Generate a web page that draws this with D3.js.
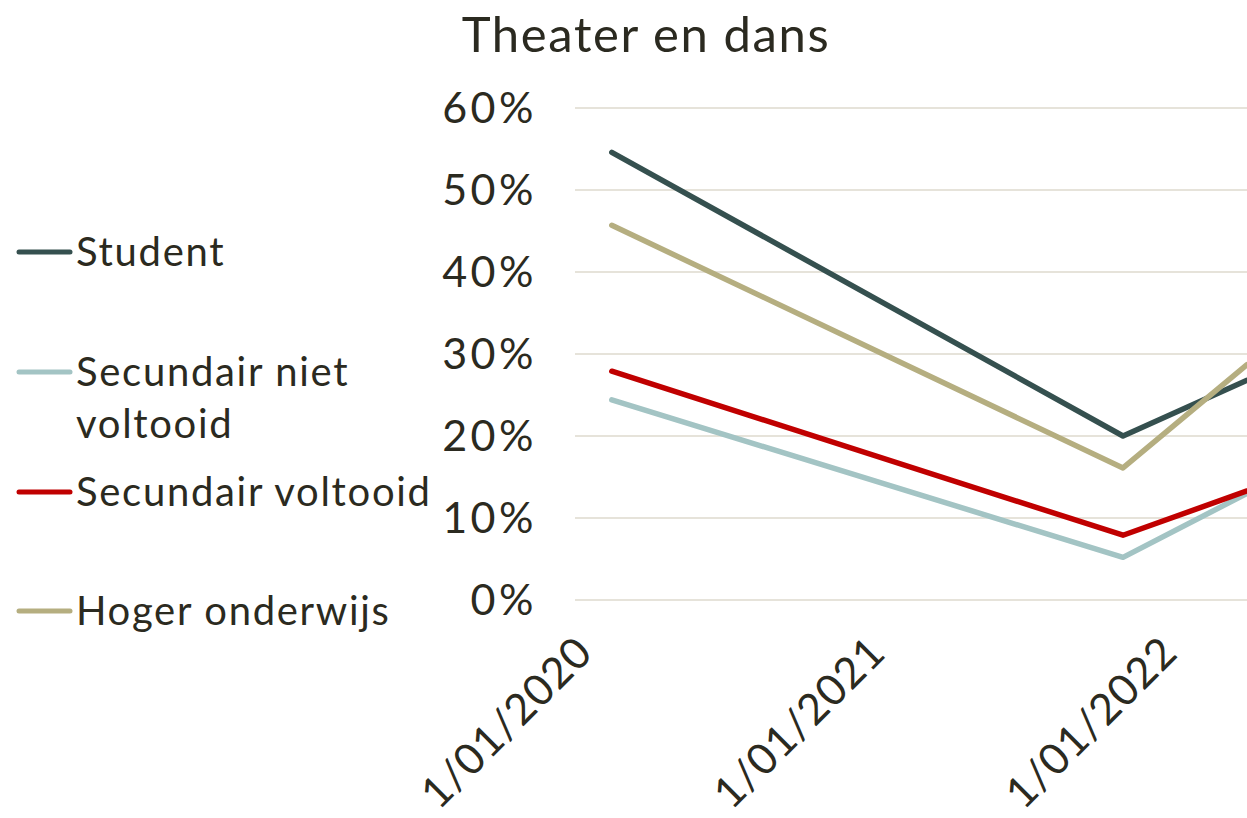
<!DOCTYPE html>
<html>
<head>
<meta charset="utf-8">
<script src="https://cdn.jsdelivr.net/npm/d3@7"></script>
<style>
  body { margin: 0; background: #fff; }
  text { font-family: Lato, "Open Sans", sans-serif; fill: #2b2a20; }
</style>
</head>
<body>
<svg width="1247" height="818"></svg>
<script>
// data
var dates = ['2020-01-01', '2021-10-01', '2022-03-05'];
var seriesNames = ['Student', 'Secundair niet voltooid', 'Secundair voltooid', 'Hoger onderwijs'];
var student = [0.546, 0.200, 0.268];
var nietVoltooid = [0.244, 0.052, 0.130];
var voltooid = [0.279, 0.079, 0.133];
var hoger = [0.457, 0.161, 0.287];
var yTicks = [0, 0.1, 0.2, 0.3, 0.4, 0.5, 0.6];
var xTicks = ['2020-01-01', '2021-01-01', '2022-01-01'];

var colors = ['#35504f', '#a3c4c4', '#c00000', '#b5ae80'];
var allValues = [student, nietVoltooid, voltooid, hoger];

var parse = d3.timeParse('%Y-%m-%d');
var svg = d3.select('svg');

var plot = {l: 575, r: 1247, t: 108, b: 600};

var xScale = d3.scaleTime()
    .domain([parse('2019-11-16'), parse('2022-03-05')])
    .range([plot.l, plot.r]);
var yScale = d3.scaleLinear().domain([0, 0.6]).range([plot.b, plot.t]);

// title
svg.append('text')
    .attr('x', 646)
    .attr('y', 52)
    .attr('text-anchor', 'middle')
    .style('font-size', '49px')
    .style('letter-spacing', '1.6px')
    .text('Theater en dans');

// gridlines
svg.append('g').selectAll('line')
    .data(yTicks).enter()
    .append('line')
    .attr('x1', plot.l)
    .attr('x2', plot.r)
    .attr('y1', function(d) { return yScale(d); })
    .attr('y2', function(d) { return yScale(d); })
    .style('stroke', '#e6e3da')
    .style('stroke-width', 2);

// y axis labels
svg.append('g').selectAll('text')
    .data(yTicks).enter()
    .append('text')
    .attr('x', 537)
    .attr('y', function(d) { return yScale(d) + 15; })
    .attr('text-anchor', 'end')
    .style('font-size', '43px')
    .style('letter-spacing', '3.5px')
    .text(function(d) { return d3.format('.0%')(d); });

// x axis labels, rotated
var fmt = function(d) { return d.getDate() + '/' + d3.timeFormat('%m/%Y')(d); };
svg.append('g').selectAll('text')
    .data(xTicks).enter()
    .append('text')
    .attr('transform', function(d) {
        return 'translate(' + [xScale(parse(d)) - 17, 655] + ') rotate(-45)';
    })
    .attr('text-anchor', 'end')
    .style('font-size', '43px')
    .style('letter-spacing', '0.8px')
    .text(function(d) { return fmt(parse(d)); });

// lines
var line = d3.line()
    .x(function(d, i) { return xScale(parse(dates[i])); })
    .y(function(d) { return yScale(d); });

svg.append('g').selectAll('path')
    .data(allValues).enter()
    .append('path')
    .attr('d', line)
    .style('fill', 'none')
    .style('stroke', function(d, i) { return colors[i]; })
    .style('stroke-width', 5.5)
    .style('stroke-linecap', 'round')
    .style('stroke-linejoin', 'round');

// legend
var legendY = [252, 372, 492, 611];
var legendLines = [['Student'], ['Secundair niet', 'voltooid'], ['Secundair voltooid'], ['Hoger onderwijs']];
var legendG = svg.append('g');
seriesNames.forEach(function(name, i) {
    legendG.append('line')
        .attr('x1', 19).attr('x2', 70)
        .attr('y1', legendY[i]).attr('y2', legendY[i])
        .style('stroke', colors[i])
        .style('stroke-width', 5)
        .style('stroke-linecap', 'round');
    var t = legendG.append('text')
        .attr('x', 76)
        .attr('y', legendY[i] + 14)
        .style('font-size', '40px')
        .style('letter-spacing', '1.7px');
    legendLines[i].forEach(function(s, j) {
        t.append('tspan').attr('x', 76).attr('dy', j == 0 ? 0 : 52).text(s);
    });
});
</script>
</body>
</html>
